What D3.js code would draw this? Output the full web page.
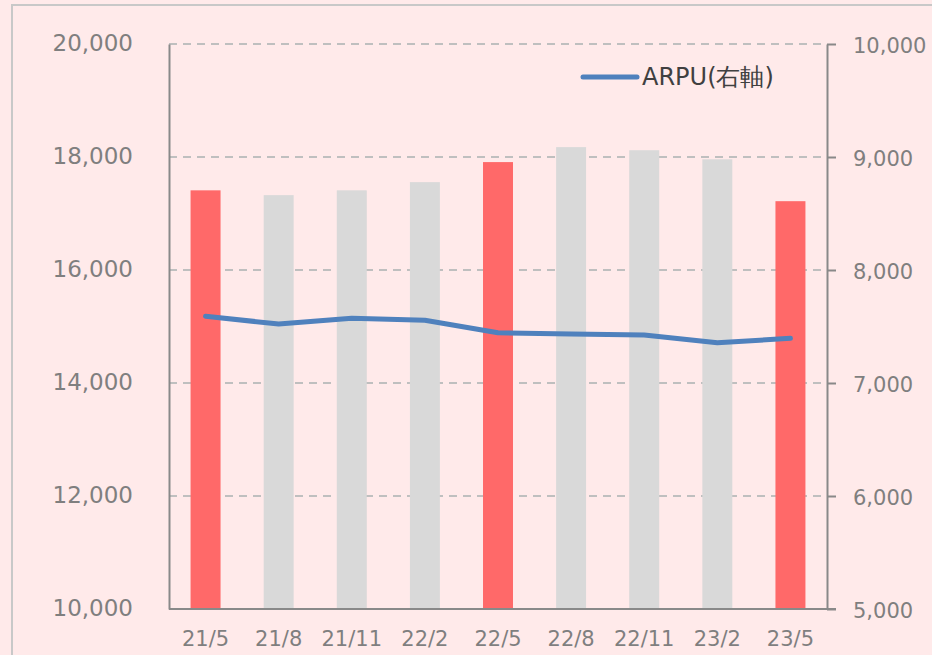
<!DOCTYPE html>
<meta charset="utf-8">
<body style="margin:0">
<svg width="932" height="655"></svg>
<script src="https://d3js.org/d3.v7.min.js"></script>
<script>
// data
var periods = ['21/5', '21/8', '21/11', '22/2', '22/5', '22/8', '22/11', '23/2', '23/5'];
var subs = [17410, 17325, 17410, 17555, 17910, 18175, 18120, 17960, 17218];
var arpu = [7590, 7522, 7572, 7555, 7445, 7433, 7424, 7356, 7395];
var highlight = ['21/5', '22/5', '23/5'];
var leftTicks = [10000, 12000, 14000, 16000, 18000, 20000];
var rightTicks = [5000, 6000, 7000, 8000, 9000, 10000];

var svg = d3.select('svg');
// plot box (note: "top" is taken by window.top)
var pLeft = 169, pRight = 827, pTop = 44, pBottom = 609;

// background + frame
svg.append('rect')
  .attr('width', 932).attr('height', 655)
  .attr('fill', '#ffeaea');
svg.append('rect')
  .attr('x', 12).attr('y', 5)
  .attr('width', 940).attr('height', 700)
  .attr('fill', 'none')
  .attr('stroke', '#c8c8c8')
  .attr('stroke-width', 2);

var x = d3.scaleBand().domain(periods).range([pLeft, pRight]).paddingInner(0.59).paddingOuter(0.295);
var yL = d3.scaleLinear().domain([10000, 20000]).range([pBottom, pTop]);
var yR = d3.scaleLinear().domain([5000, 10000]).range([pBottom, pTop]);

// gridlines
svg.append('g').selectAll('line')
  .data(leftTicks.slice(1))
  .enter().append('line')
    .attr('x1', pLeft).attr('x2', pRight)
    .attr('y1', function(d) { return yL(d); })
    .attr('y2', function(d) { return yL(d); })
    .attr('stroke', '#bfbfbf')
    .attr('stroke-width', 2)
    .attr('stroke-dasharray', '8,6');

// bars
svg.append('g').selectAll('rect')
  .data(periods)
  .enter().append('rect')
    .attr('x', function(d) { return x(d); })
    .attr('width', x.bandwidth())
    .attr('y', function(d, i) { return yL(subs[i]); })
    .attr('height', function(d, i) { return pBottom - yL(subs[i]); })
    .attr('fill', function(d) { return highlight.indexOf(d) >= 0 ? '#ff6969' : '#d9d9d9'; });

// axes
var axisColor = '#898989';
var labelColor = '#7f7f7f';
var font = '"DejaVu Sans", Verdana, sans-serif';

var gL = svg.append('g').attr('transform', 'translate(' + pLeft + ',0)')
  .call(d3.axisLeft(yL).tickValues(leftTicks).tickSize(0).tickPadding(36).tickFormat(d3.format(',')));
gL.select('.domain').attr('stroke', axisColor).attr('stroke-width', 2);
gL.selectAll('text').attr('fill', labelColor).attr('font-size', 23).attr('font-family', font).attr('dy', 6);

var gR = svg.append('g').attr('transform', 'translate(' + pRight + ',0)')
  .call(d3.axisRight(yR).tickValues(rightTicks).tickSize(9).tickSizeOuter(0).tickPadding(17).tickFormat(d3.format(',')));
gR.select('.domain').attr('stroke', axisColor).attr('stroke-width', 2);
gR.selectAll('.tick line').attr('stroke', axisColor).attr('stroke-width', 2);
gR.selectAll('text').attr('fill', labelColor).attr('font-size', 21).attr('font-family', font).attr('dy', 8.5);

var gB = svg.append('g').attr('transform', 'translate(0,' + pBottom + ')')
  .call(d3.axisBottom(x).tickSize(0).tickPadding(22));
gB.select('.domain').attr('d', 'M' + pLeft + ',0H' + (pRight + 9)).attr('stroke', axisColor).attr('stroke-width', 2);
gB.selectAll('text').attr('fill', labelColor).attr('font-size', 21).attr('font-family', font);

// ARPU line on right axis
var line = d3.line()
  .x(function(d, i) { return x(periods[i]) + x.bandwidth() / 2; })
  .y(function(d) { return yR(d); });
svg.append('path')
  .datum(arpu)
  .attr('d', line)
  .attr('fill', 'none')
  .attr('stroke', '#4f81bd')
  .attr('stroke-width', 5)
  .attr('stroke-linecap', 'round')
  .attr('stroke-linejoin', 'round');

// legend
svg.append('line')
  .attr('x1', 583).attr('x2', 637).attr('y1', 77).attr('y2', 77)
  .attr('stroke', '#4f81bd').attr('stroke-width', 5).attr('stroke-linecap', 'round');
svg.append('text')
  .attr('x', 642).attr('y', 85)
  .attr('fill', '#404040')
  .attr('font-size', 24)
  .attr('font-family', font)
  .text('ARPU(右軸)');
</script>
</body>
